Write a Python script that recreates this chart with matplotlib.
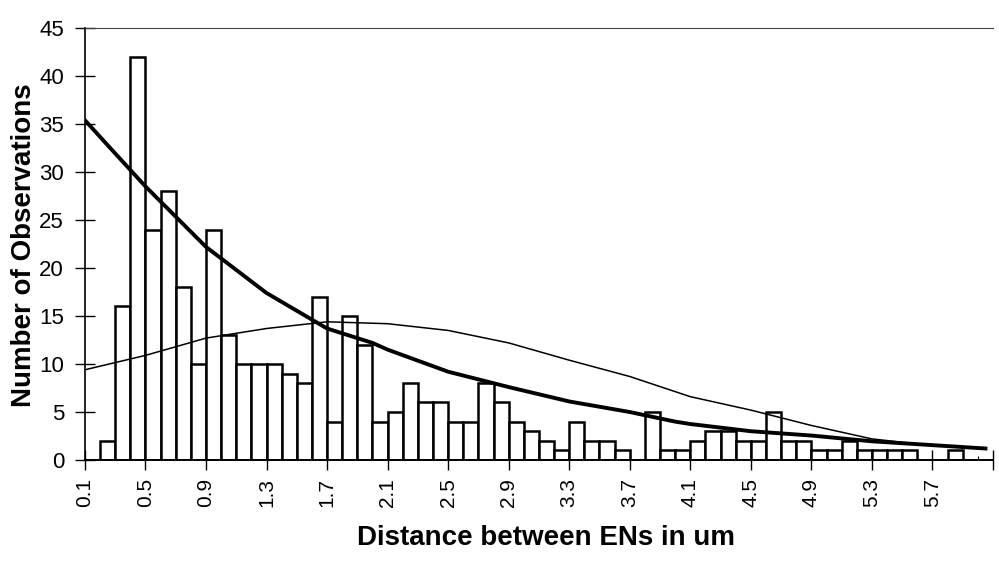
import numpy as np
import matplotlib.pyplot as plt

# bin left edges (um) and counts
bin_left = [round(0.1 * k, 1) for k in range(1, 60)]
counts = [0, 2, 16, 42, 24, 28, 18, 10, 24, 13,
          10, 10, 10, 9, 8, 17, 4, 15, 12, 4,
          5, 8, 6, 6, 4, 4, 8, 6, 4, 3,
          2, 1, 4, 2, 2, 1, 0, 5, 1, 1,
          2, 3, 3, 2, 2, 5, 2, 2, 1, 1,
          2, 1, 1, 1, 1, 0, 0, 1, 0]

# thick fitted curve (exponential-like)
fit_x = [0.1, 0.25, 0.5, 0.9, 1.3, 1.7, 2.0, 2.1, 2.5, 2.9, 3.3, 3.7, 4.0, 4.1, 4.5, 4.9, 5.3, 5.7, 6.05]
fit_y = [35.4, 32.8, 28.5, 22.2, 17.4, 13.7, 12.2, 11.5, 9.2, 7.6, 6.1, 5.0, 4.0, 3.75, 3.0, 2.55, 1.95, 1.55, 1.2]

# thin fitted curve (normal-like)
norm_x = [0.1, 0.5, 0.9, 1.3, 1.7, 2.1, 2.5, 2.9, 3.3, 3.7, 4.1, 4.5, 4.9, 5.3, 5.7, 6.05]
norm_y = [9.4, 10.9, 12.7, 13.7, 14.4, 14.2, 13.5, 12.2, 10.4, 8.7, 6.6, 5.2, 3.6, 2.2, 1.5, 1.2]

tick_vals = [0.1, 0.5, 0.9, 1.3, 1.7, 2.1, 2.5, 2.9, 3.3, 3.7, 4.1, 4.5, 4.9, 5.3, 5.7]

plt.rcParams['font.family'] = ['Liberation Sans', 'DejaVu Sans']

fig = plt.figure(figsize=(9.99, 5.61), dpi=100)
ax = fig.add_axes([0.085, 0.18, 0.909, 0.77])

ax.bar(bin_left, counts, width=0.1, align='edge', color='white',
       edgecolor='black', linewidth=1.8, zorder=2)
ax.plot(norm_x, norm_y, color='black', linewidth=1.1, zorder=3)
ax.plot(fit_x, fit_y, color='black', linewidth=2.8, zorder=4)

ax.set_xlim(0.1, 6.1)
ax.set_ylim(0, 45)
ax.set_yticks(range(0, 46, 5))
ax.set_xticks(tick_vals + [6.1])
ax.set_xticklabels([f'{v:.1f}' for v in tick_vals] + [''], rotation=90, fontsize=15)
ax.set_xticks(np.arange(0.1, 6.11, 0.1), minor=True)
ax.tick_params(axis='y', labelsize=16, direction='inout', length=14, width=1, pad=8)
ax.tick_params(axis='x', which='major', direction='inout', length=14, width=1, pad=6)
ax.tick_params(axis='x', which='minor', direction='in', length=3, width=0.8)

ax.spines['right'].set_visible(False)
ax.spines['top'].set_color('#444444')
ax.spines['left'].set_linewidth(1.2)
ax.spines['bottom'].set_linewidth(1.4)

fig.text(0.547, 0.028, 'Distance between ENs in um', fontsize=20, fontweight='bold',
         ha='center', va='baseline')
fig.text(0.024, 0.563, 'Number of Observations', fontsize=20, fontweight='bold',
         ha='center', va='center', rotation=90)

fig.savefig('out.png', dpi=100)
